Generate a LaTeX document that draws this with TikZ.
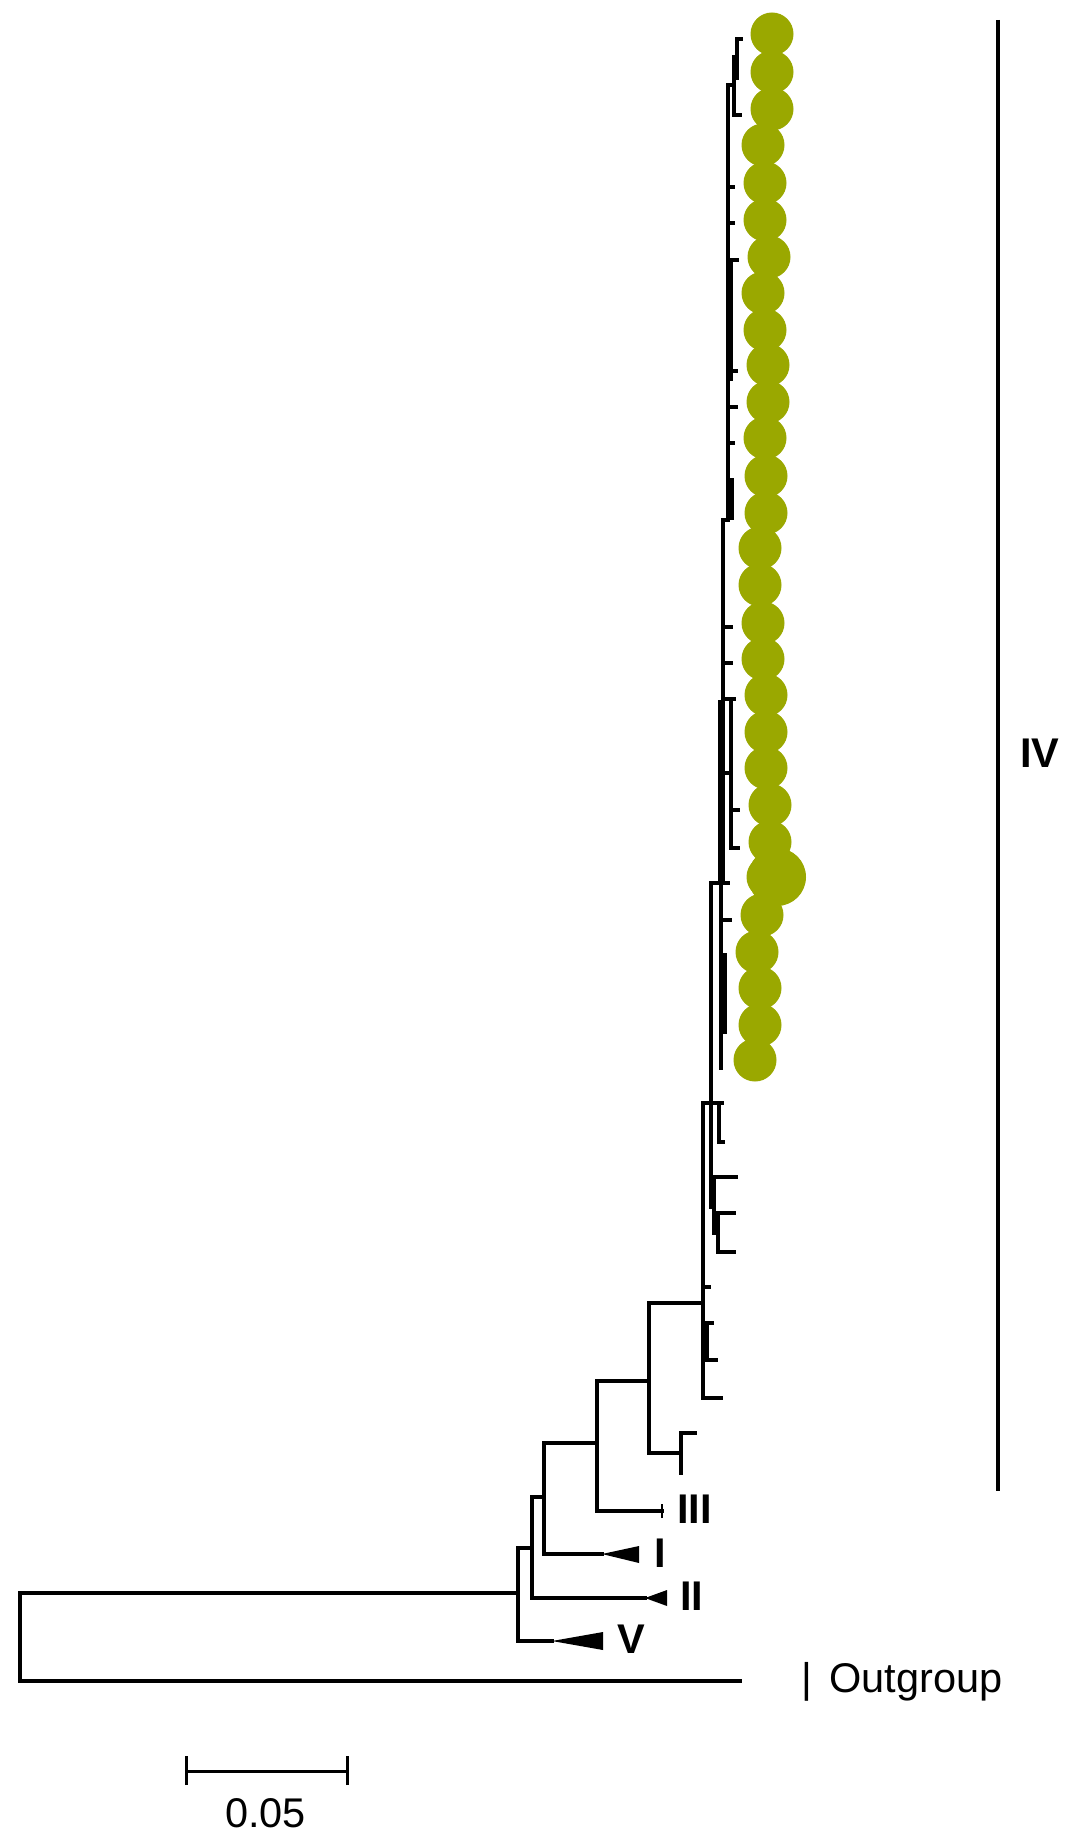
\documentclass[tikz,border=0pt]{standalone}
\usepackage{fontspec}
\setmainfont{Liberation Sans}
\definecolor{dotc}{RGB}{154,168,0}
\begin{document}
\begin{tikzpicture}[x=1pt,y=-1pt,
  tree/.style={line width=4pt, line cap=rect, line join=miter},
  lab/.style={inner sep=0pt, anchor=base west, font=\fontsize{41.5}{48}\selectfont},
  blab/.style={lab, font=\fontsize{41.5}{48}\selectfont\bfseries},
  wedge/.style={fill=black}]
\useasboundingbox (0,0) rectangle (1076,1843);

% backbone coordinates
\coordinate (root) at (20,1637);
\coordinate (og) at (740,1681);
\coordinate (nA) at (518,1593);
\coordinate (nB) at (532,1548);
\coordinate (tV) at (552,1641);
\coordinate (nC) at (544,1497);
\coordinate (tII) at (645,1598);
\coordinate (nD) at (597,1443);
\coordinate (tI) at (602,1554);
\coordinate (nE) at (649,1381);
\coordinate (tIII) at (662,1511);
\coordinate (nF) at (703,1303);
\coordinate (nG) at (681,1453);
\coordinate (g1) at (695,1433);
\coordinate (g2) at (681,1473);

\draw[tree] (nA) -| (root) |- (og);
\draw[tree] (nB) -| (nA) |- (tV);
\draw[tree] (nC) -| (nB) |- (tII);
\draw[tree] (nD) -| (nC) |- (tI);
\draw[tree] (nE) -| (nD) |- (tIII);
\draw[tree] (nF) -| (nE) |- (nG);
\draw[tree] (g1) -| (nG) |- (g2);
\draw[line width=2.5pt] ([yshift=-7pt]tIII) -- ([yshift=7pt]tIII);

% collapsed clades
\fill[wedge] (tV) -- (603,1632) -- (603,1650) -- cycle;
\fill[wedge] (tI) -- (639,1546) -- (639,1563) -- cycle;
\fill[wedge] (tII) -- (667,1590) -- (667,1606) -- cycle;

% clade IV ladder
\draw[tree] (703,1103) -- (703,1398) -- (721,1398);
\draw[tree] (703,1103) -- (722,1103);
\draw[tree] (719,1103) -- (719,1142) -- (723,1142);
\draw[tree] (711,883) -- (711,1207);
\draw[tree] (711,1177) -- (736,1177);
\draw[tree] (714,1177) -- (714,1233) -- (718,1233);
\draw[tree] (718,1213) -- (718,1252);
\draw[tree] (718,1213) -- (734,1213);
\draw[tree] (718,1252) -- (734,1252);
\draw[tree] (703,1287) -- (709,1287);
\draw[tree] (703,1323) -- (712,1323);
\draw[tree] (707,1323) -- (707,1360) -- (716,1360);
\draw[tree] (711,883) -- (728,883);
\draw[tree] (721,883) -- (721,1068);
\draw[tree] (721,920) -- (730,920);
\draw[tree] (725,955) -- (725,1032);
\draw[tree] (723,520) -- (723,883);
\draw[tree] (720,702) -- (720,883);
\draw[tree] (723,520) -- (728,520);
\draw[tree] (723,627) -- (731,627);
\draw[tree] (723,663) -- (731,663);
\draw[tree] (723,699) -- (734,699);
\draw[tree] (731,699) -- (731,848);
\draw[tree] (723,773) -- (731,773);
\draw[tree] (731,810) -- (738,810);
\draw[tree] (731,848) -- (738,848);
\draw[tree] (728,85) -- (728,520);
\draw[tree] (731,260) -- (731,379);
\draw[tree] (728,187) -- (733,187);
\draw[tree] (728,223) -- (733,223);
\draw[tree] (728,260) -- (737,260);
\draw[tree] (728,371) -- (736,371);
\draw[tree] (728,407) -- (736,407);
\draw[tree] (728,443) -- (733,443);
\draw[tree] (732,480) -- (732,518);
\draw[tree] (728,85) -- (734,85);
\draw[tree] (734,57) -- (734,115) -- (740,115);
\draw[tree] (734,57) -- (737,57);
\draw[tree] (737,39) -- (737,78);
\draw[tree] (737,39) -- (741,39);

% tip dots
\foreach \x/\y in {772/34,772/72,772/109,763/145,765/183,765/220,769/257,763/293,765/330,
  768/365,768/402,765/438,766/476,766/513,760/548,760/585,763/623,763/659,766/695,
  766/732,766/768,770/805,770/842,768/877,762/915,757/952,760/988,760/1025,755/1060}
  \fill[dotc] (\x,\y) circle (21.5);
\fill[dotc] (777,877) circle (29);

% clade bar IV
\coordinate (barT) at (998,20);
\coordinate (barB) at (998,1491);
\draw[line width=4pt] (barT) -- (barB);

% labels
\node[blab] (lIV) at (1020,767) {IV};
\node[blab] (lIII) at (677,1523) {III};
\node[blab] (lI) at (654,1567) {I};
\node[blab] (lII) at (680,1610) {II};
\node[blab] (lV) at (617,1653) {V};
\node[lab] (lbar) at (801,1692) {|};
\node[lab] (lOG) at (829,1692) {Outgroup};

% scale bar
\coordinate (sL) at (186,1771);
\coordinate (sR) at (347,1771);
\draw[line width=3pt] (sL) -- (sR);
\draw[line width=3pt] ([yshift=-14pt]sL) -- ([yshift=15pt]sL);
\draw[line width=3pt] ([yshift=-14pt]sR) -- ([yshift=15pt]sR);
\node[lab] (lsc) at (225,1827) {0.05};
\end{tikzpicture}
\end{document}
